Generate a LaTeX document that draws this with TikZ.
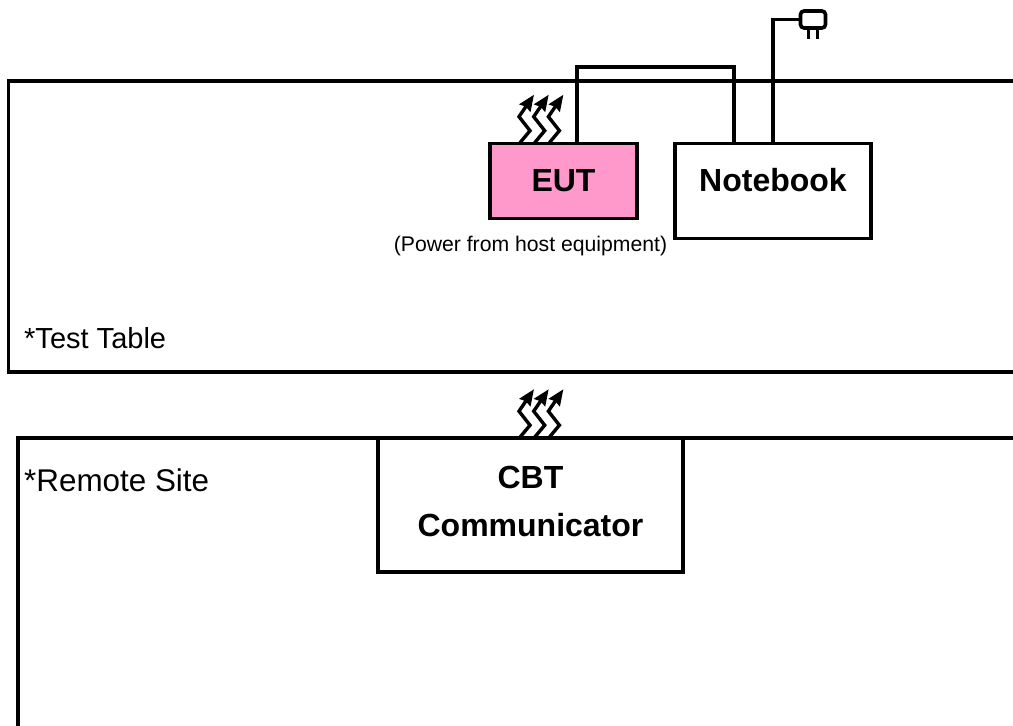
\documentclass[tikz,border=0pt]{standalone}
\usepackage{fontspec}
\setmainfont{Liberation Sans}
\usetikzlibrary{arrows.meta}

\definecolor{eutpink}{HTML}{FF99CC}

\tikzset{
	box/.style={draw, line width=3.6pt, align=center, font=\fontsize{32}{48}\selectfont\bfseries},
	wire/.style={line width=3.6pt},
	wave/.style={line width=3.4pt, -{Stealth[length=16pt,width=13pt,inset=1.5pt]}},
	site/.style={font=\fontsize{#1}{#1}\selectfont, anchor=west, inner sep=0pt}
}

\begin{document}
\begin{tikzpicture}[x=1pt,y=-1pt]
\useasboundingbox (0,0) rectangle (1013,726);

% table and site outlines
\draw[wire] (1020,81) -- (8.5,81) -- (8.5,372) -- (1020,372);
\draw[wire] (1020,438) -- (18,438) -- (18,735);

\node[box, fill=eutpink, minimum width=147, minimum height=75] (eut) at (563.5,181) {EUT};
\node[box, minimum width=196, minimum height=95] (notebook) at (773,191) {\raisebox{23pt}{Notebook}};
\node[box, fill=white, minimum width=305, minimum height=134] (cbt) at (530.5,505) {\raisebox{8pt}{CBT}\\\raisebox{8pt}{Communicator}};
\node[draw, line width=3.6pt, rounded corners=3.5pt, minimum width=25, minimum height=17] (plug) at (813,19.5) {};

\node[font=\fontsize{21.2}{21.2}\selectfont, inner sep=0pt] (power) at (530.5,246) {(Power from host equipment)};
\node[site=29] (table) at (24,338) {*Test Table};
\node[site=31.4] (remote) at (24,480) {*Remote Site};

\coordinate (eutport) at (577,144);
\coordinate (nbleft) at (734,144);
\coordinate (nbright) at (773,144);

\draw[wire] (eutport) -- ++(0,-77) -| (nbleft);
\draw[wire] (nbright) |- (plug.west);
\draw[line width=3.4pt] ([xshift=-4.5]plug.south) -- ++(0,9);
\draw[line width=3.4pt] ([xshift=4.5]plug.south) -- ++(0,9);

% radio waves
\foreach \dx in {0,14.7,29.4} {
	\draw[wave] ([xshift=\dx-43.5]eut.north) ++(0,1) -- ++(10,-12) -- ++(-11,-14) -- ++(15,-22);
	\draw[wave] ([xshift=\dx-10.5]cbt.north) ++(0,1) -- ++(10,-12) -- ++(-11,-14) -- ++(15,-22);
}
\end{tikzpicture}
\end{document}
